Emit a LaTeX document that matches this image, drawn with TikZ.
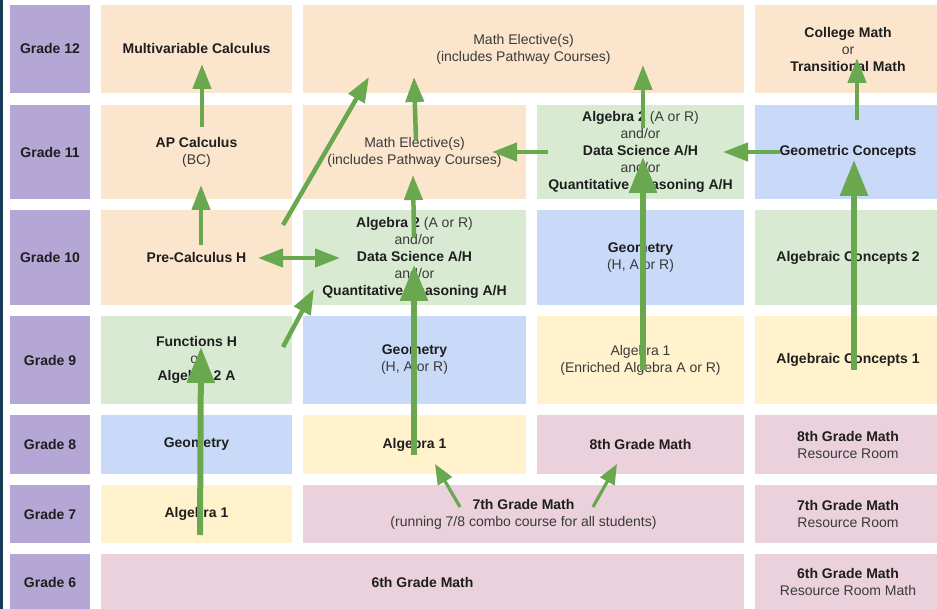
\documentclass[tikz,border=0pt]{standalone}
\usepackage{fontspec}
\setmainfont{Liberation Sans}
\usetikzlibrary{arrows.meta}
\definecolor{cpurple}{HTML}{B4A7D6}
\definecolor{cpeach}{HTML}{FCE5CD}
\definecolor{cgreen}{HTML}{D9EAD3}
\definecolor{cblue}{HTML}{C9DAF8}
\definecolor{cyellow}{HTML}{FFF2CC}
\definecolor{cpink}{HTML}{EAD1DC}
\definecolor{arrowgreen}{HTML}{6AA84F}
\definecolor{navy}{HTML}{173B57}
\definecolor{txtbold}{HTML}{1E1E1E}
\definecolor{txtreg}{HTML}{3A3A3A}
\newcommand\rg[1]{{\color{txtreg}\mdseries #1}}
\newcommand\mycell[7]{%
  \node[cellbox, fill=#6, minimum width=#4pt, minimum height=#5pt] (#1) at (#2,#3) {#7};}
\tikzset{
  cellbox/.style={inner sep=0pt, align=center, text=txtbold,
    font=\fontsize{14}{17}\selectfont\bfseries},
  medarrow/.style={draw=arrowgreen, line width=4.5pt,
    -{Triangle[width=18pt,length=25pt]}, arrowgreen},
  bigarrow/.style={draw=arrowgreen, line width=6pt,
    -{Triangle[width=27pt,length=36pt]}, arrowgreen},
  smallarrow/.style={draw=arrowgreen, line width=3.2pt,
    -{Triangle[width=16pt,length=20pt]}, arrowgreen},
}
\begin{document}
\begin{tikzpicture}[x=1pt,y=-1pt]
\clip (0,0) rectangle (937,609);
\fill[white] (0,0) rectangle (937,609);
\fill[navy] (0,0) rectangle (2.5,609);
% grade labels
\mycell{g12}{50}{49}{80}{88}{cpurple}{Grade 12}
\mycell{g11}{50}{152}{80}{94}{cpurple}{Grade 11}
\mycell{g10}{50}{257.5}{80}{95}{cpurple}{Grade 10}
\mycell{g9}{50}{360}{80}{88}{cpurple}{Grade 9}
\mycell{g8}{50}{444.5}{80}{59}{cpurple}{Grade 8}
\mycell{g7}{50}{514}{80}{58}{cpurple}{Grade 7}
\mycell{g6}{50}{582}{80}{56}{cpurple}{Grade 6}
% grade 12
\mycell{multi}{196.5}{49}{191}{88}{cpeach}{Multivariable Calculus}
\mycell{electop}{523.5}{49}{441}{88}{cpeach}{\rg{Math Elective(s)}\\\rg{(includes Pathway Courses)}}
\mycell{college}{848}{49}{186}{88}{cpeach}{College Math\\\rg{or}\\Transitional Math}
% grade 11
\mycell{apcalc}{196.5}{152}{191}{94}{cpeach}{AP Calculus\\\rg{(BC)}}
\mycell{elec11}{414.5}{152}{223}{94}{cpeach}{\rg{Math Elective(s)}\\\rg{(includes Pathway Courses)}}
\mycell{algtwoC}{640.5}{152}{207}{94}{cgreen}{Algebra 2 \rg{(A or R)}\\\rg{and/or}\\Data Science A/H\\\rg{and/or}\\Quantitative Reasoning A/H}
\mycell{geoconc}{848}{152}{186}{94}{cblue}{Geometric Concepts}
% grade 10
\mycell{precalc}{196.5}{257.5}{191}{95}{cpeach}{Pre-Calculus H}
\mycell{algtwoB}{414.5}{257.5}{223}{95}{cgreen}{Algebra 2 \rg{(A or R)}\\\rg{and/or}\\Data Science A/H\\\rg{and/or}\\Quantitative Reasoning A/H}
\mycell{geoC}{640.5}{257.5}{207}{95}{cblue}{Geometry\\\rg{(H, A or R)}}
\mycell{algcon2}{848}{257.5}{186}{95}{cgreen}{Algebraic Concepts 2}
% grade 9
\mycell{func}{196.5}{360}{191}{88}{cgreen}{Functions H\\\rg{or}\\Algebra 2 A}
\mycell{geoB}{414.5}{360}{223}{88}{cblue}{Geometry\\\rg{(H, A or R)}}
\mycell{algoneC}{640.5}{360}{207}{88}{cyellow}{\rg{Algebra 1}\\\rg{(Enriched Algebra A or R)}}
\mycell{algcon1}{848}{360}{186}{88}{cyellow}{Algebraic Concepts 1}
% grade 8
\mycell{geoA}{196.5}{444.5}{191}{59}{cblue}{Geometry}
\mycell{algoneB}{414.5}{444.5}{223}{59}{cyellow}{Algebra 1}
\mycell{matheight}{640.5}{444.5}{207}{59}{cpink}{8th Grade Math}
\mycell{rreight}{848}{444.5}{186}{59}{cpink}{8th Grade Math\\\rg{Resource Room}}
% grade 7
\mycell{algoneA}{196.5}{514}{191}{58}{cyellow}{Algebra 1}
\mycell{mathseven}{523.5}{514}{441}{58}{cpink}{7th Grade Math\\\rg{(running 7/8 combo course for all students)}}
\mycell{rrseven}{848}{514}{186}{58}{cpink}{7th Grade Math\\\rg{Resource Room}}
% grade 6
\mycell{mathsix}{422.5}{582}{643}{56}{cpink}{6th Grade Math}
\mycell{rrsix}{848}{582}{186}{56}{cpink}{6th Grade Math\\\rg{Resource Room Math}}
% arrow end points
\coordinate (a1s) at (202,127); \coordinate (a1e) at (202,64);
\coordinate (a2s) at (201,245); \coordinate (a2e) at (201,185);
\coordinate (a3s) at (283,225); \coordinate (a3e) at (369,77);
\coordinate (a4s) at (416,140); \coordinate (a4e) at (414,77);
\coordinate (a5s) at (548,152); \coordinate (a5e) at (492,152);
\coordinate (a6s) at (780,152); \coordinate (a6e) at (723,152);
\coordinate (a7s) at (857,120); \coordinate (a7e) at (857,58);
\coordinate (a8s) at (643,370); \coordinate (a8e) at (643,157);
\coordinate (a9s) at (643,128); \coordinate (a9e) at (643,65);
\coordinate (a10s) at (854,370); \coordinate (a10e) at (854,160);
\coordinate (a11s) at (258,258); \coordinate (a11e) at (340,258);
\coordinate (a12s) at (283,347); \coordinate (a12e) at (314,289);
\coordinate (a13s) at (414,455); \coordinate (a13e) at (414,265);
\coordinate (a14s) at (414,237); \coordinate (a14e) at (413,175);
\coordinate (a15s) at (200,535); \coordinate (a15e) at (201,347);
\coordinate (a16s) at (460,507); \coordinate (a16e) at (435,464);
\coordinate (a17s) at (593,507); \coordinate (a17e) at (617,464);
% arrows
\draw[medarrow] (a1s) -- (a1e);
\draw[medarrow] (a2s) -- (a2e);
\draw[medarrow] (a3s) -- (a3e);
\draw[medarrow] (a4s) -- (a4e);
\draw[medarrow] (a5s) -- (a5e);
\draw[medarrow] (a6s) -- (a6e);
\draw[medarrow] (a7s) -- (a7e);
\draw[bigarrow] (a8s) -- (a8e);
\draw[medarrow] (a9s) -- (a9e);
\draw[bigarrow] (a10s) -- (a10e);
\draw[medarrow, {Triangle[width=18pt,length=25pt]}-{Triangle[width=18pt,length=25pt]}] (a11s) -- (a11e);
\draw[medarrow] (a12s) -- (a12e);
\draw[bigarrow] (a13s) -- (a13e);
\draw[medarrow] (a14s) -- (a14e);
\draw[bigarrow] (a15s) -- (a15e);
\draw[smallarrow] (a16s) -- (a16e);
\draw[smallarrow] (a17s) -- (a17e);
\end{tikzpicture}
\end{document}
